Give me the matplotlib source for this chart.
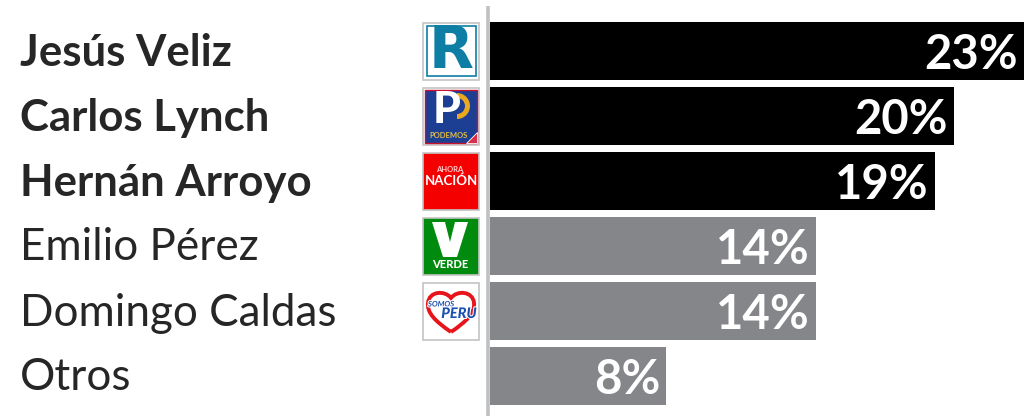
import matplotlib
matplotlib.use("Agg")
import matplotlib.pyplot as plt
from matplotlib.patches import Rectangle, Polygon, PathPatch, Wedge
from matplotlib.path import Path
import matplotlib.patheffects as pe

names = ["Jesús Veliz", "Carlos Lynch", "Hernán Arroyo", "Emilio Pérez", "Domingo Caldas", "Otros"]
values = [23, 20, 19.15, 14.05, 14.05, 7.6]
labels = ["23%", "20%", "19%", "14%", "14%", "8%"]
bold = [True, True, True, False, False, False]

W, H = 1024, 416
plt.rcParams["font.family"] = ["Lato", "DejaVu Sans"]

fig = plt.figure(figsize=(W / 100, H / 100), dpi=100)

# pixel overlay for the names and the party logos
bg = fig.add_axes([0, 0, 1, 1])
bg.set_xlim(0, W)
bg.set_ylim(H, 0)
bg.axis("off")

# bars
ax = fig.add_axes([490 / W, 0, 534 / W, 1])
ax.set_xlim(0, 23)
ax.set_ylim(5.615, -0.785)
colors = ["#000000" if b else "#85868a" for b in bold]
ax.barh(range(len(values)), values, height=0.885, color=colors)
ax.axis("off")

for i, v in enumerate(values):
    ax.annotate(labels[i], (v, i), xytext=(-4.5, -3), textcoords="offset points",
                ha="right", va="center", color="white", fontsize=34, fontweight="bold")

row_y = [51 + 65 * i for i in range(len(names))]
for n, y, b in zip(names, row_y, bold):
    bg.text(20, y + 2, n, ha="left", va="center", color="#262626", fontsize=31.5 if b else 31.7,
            fontweight="bold" if b else "normal")

# axis line between logos and bars
bg.plot([487.5, 487.5], [6, H], color="#bfc0c2", lw=2.6, solid_capstyle="butt")


def box(y, face="white"):
    bg.add_patch(Rectangle((423, y - 28.5), 56, 57, fc=face, ec="#c4c4c4", lw=1.2))


# R
y = row_y[0]
box(y)
bg.add_patch(Rectangle((426.5, y - 25), 49, 50, fc="white", ec="#0f7ea5", lw=1.2))
bg.text(451, y, "R", ha="center", va="center", color="#0f7ea5", fontsize=42, fontweight="bold",
        family="DejaVu Sans")

# Podemos
y = row_y[1]
box(y)
bg.add_patch(Rectangle((425, y - 26.5), 52, 53, fc="#1c3f94", ec="#c8102e", lw=1))
bg.add_patch(Wedge((457, y - 10), 13, -90, 90, width=5, fc="#e8a820", ec="none"))
bg.text(447, y - 6, "P", ha="center", va="center", color="white", fontsize=32, fontweight="black")
bg.text(449, y + 20, "PODEMOS", ha="center", va="center", color="#e8c040", fontsize=5.5, fontweight="bold")
bg.add_patch(Polygon([[477, y + 16], [477, y + 27], [466, y + 27]], fc="#d8304a", ec="white", lw=0.6))

# Ahora Nación
y = row_y[2]
box(y, "#f40000")
bg.text(450, y - 11, "AHORA", ha="center", va="center", color="#ffd0d0", fontsize=5.5, fontweight="bold")
bg.text(451, y, "NACIÓN", ha="center", va="center", color="white", fontsize=9.5, fontweight="bold")

# Verde
y = row_y[3]
box(y, "#008a0e")
bg.add_patch(Polygon([[432, y - 24], [445, y - 24], [450, y - 4], [455, y - 24], [468, y - 24],
                      [457, y + 11], [443, y + 11]], fc="white", ec="none"))
bg.text(450, y + 18, "VERDE", ha="center", va="center", color="white", fontsize=8, fontweight="black")

# Somos Peru
y = row_y[4]
box(y)
heart = Path([(451, y + 21), (435, y + 10), (427, y + 2), (428, y - 8),
              (429, y - 20), (445, y - 21), (451, y - 13),
              (457, y - 21), (473, y - 20), (474, y - 8),
              (475, y + 2), (467, y + 10), (451, y + 21)],
             [Path.MOVETO] + [Path.CURVE4] * 12)
bg.add_patch(PathPatch(heart, fc="white", ec="#e8141c", lw=2.8))
bg.text(441, y - 7, "SOMOS", ha="center", va="center", color="#1c50b0", fontsize=5.5, fontweight="bold",
        style="italic", path_effects=[pe.withStroke(linewidth=1.5, foreground="white")])
bg.text(459, y + 3, "PERU", ha="center", va="center", color="#1c50b0", fontsize=10.5, fontweight="black",
        style="italic", path_effects=[pe.withStroke(linewidth=1.5, foreground="white")])

fig.savefig("out.png", dpi=100, facecolor="white")
plt.close()
